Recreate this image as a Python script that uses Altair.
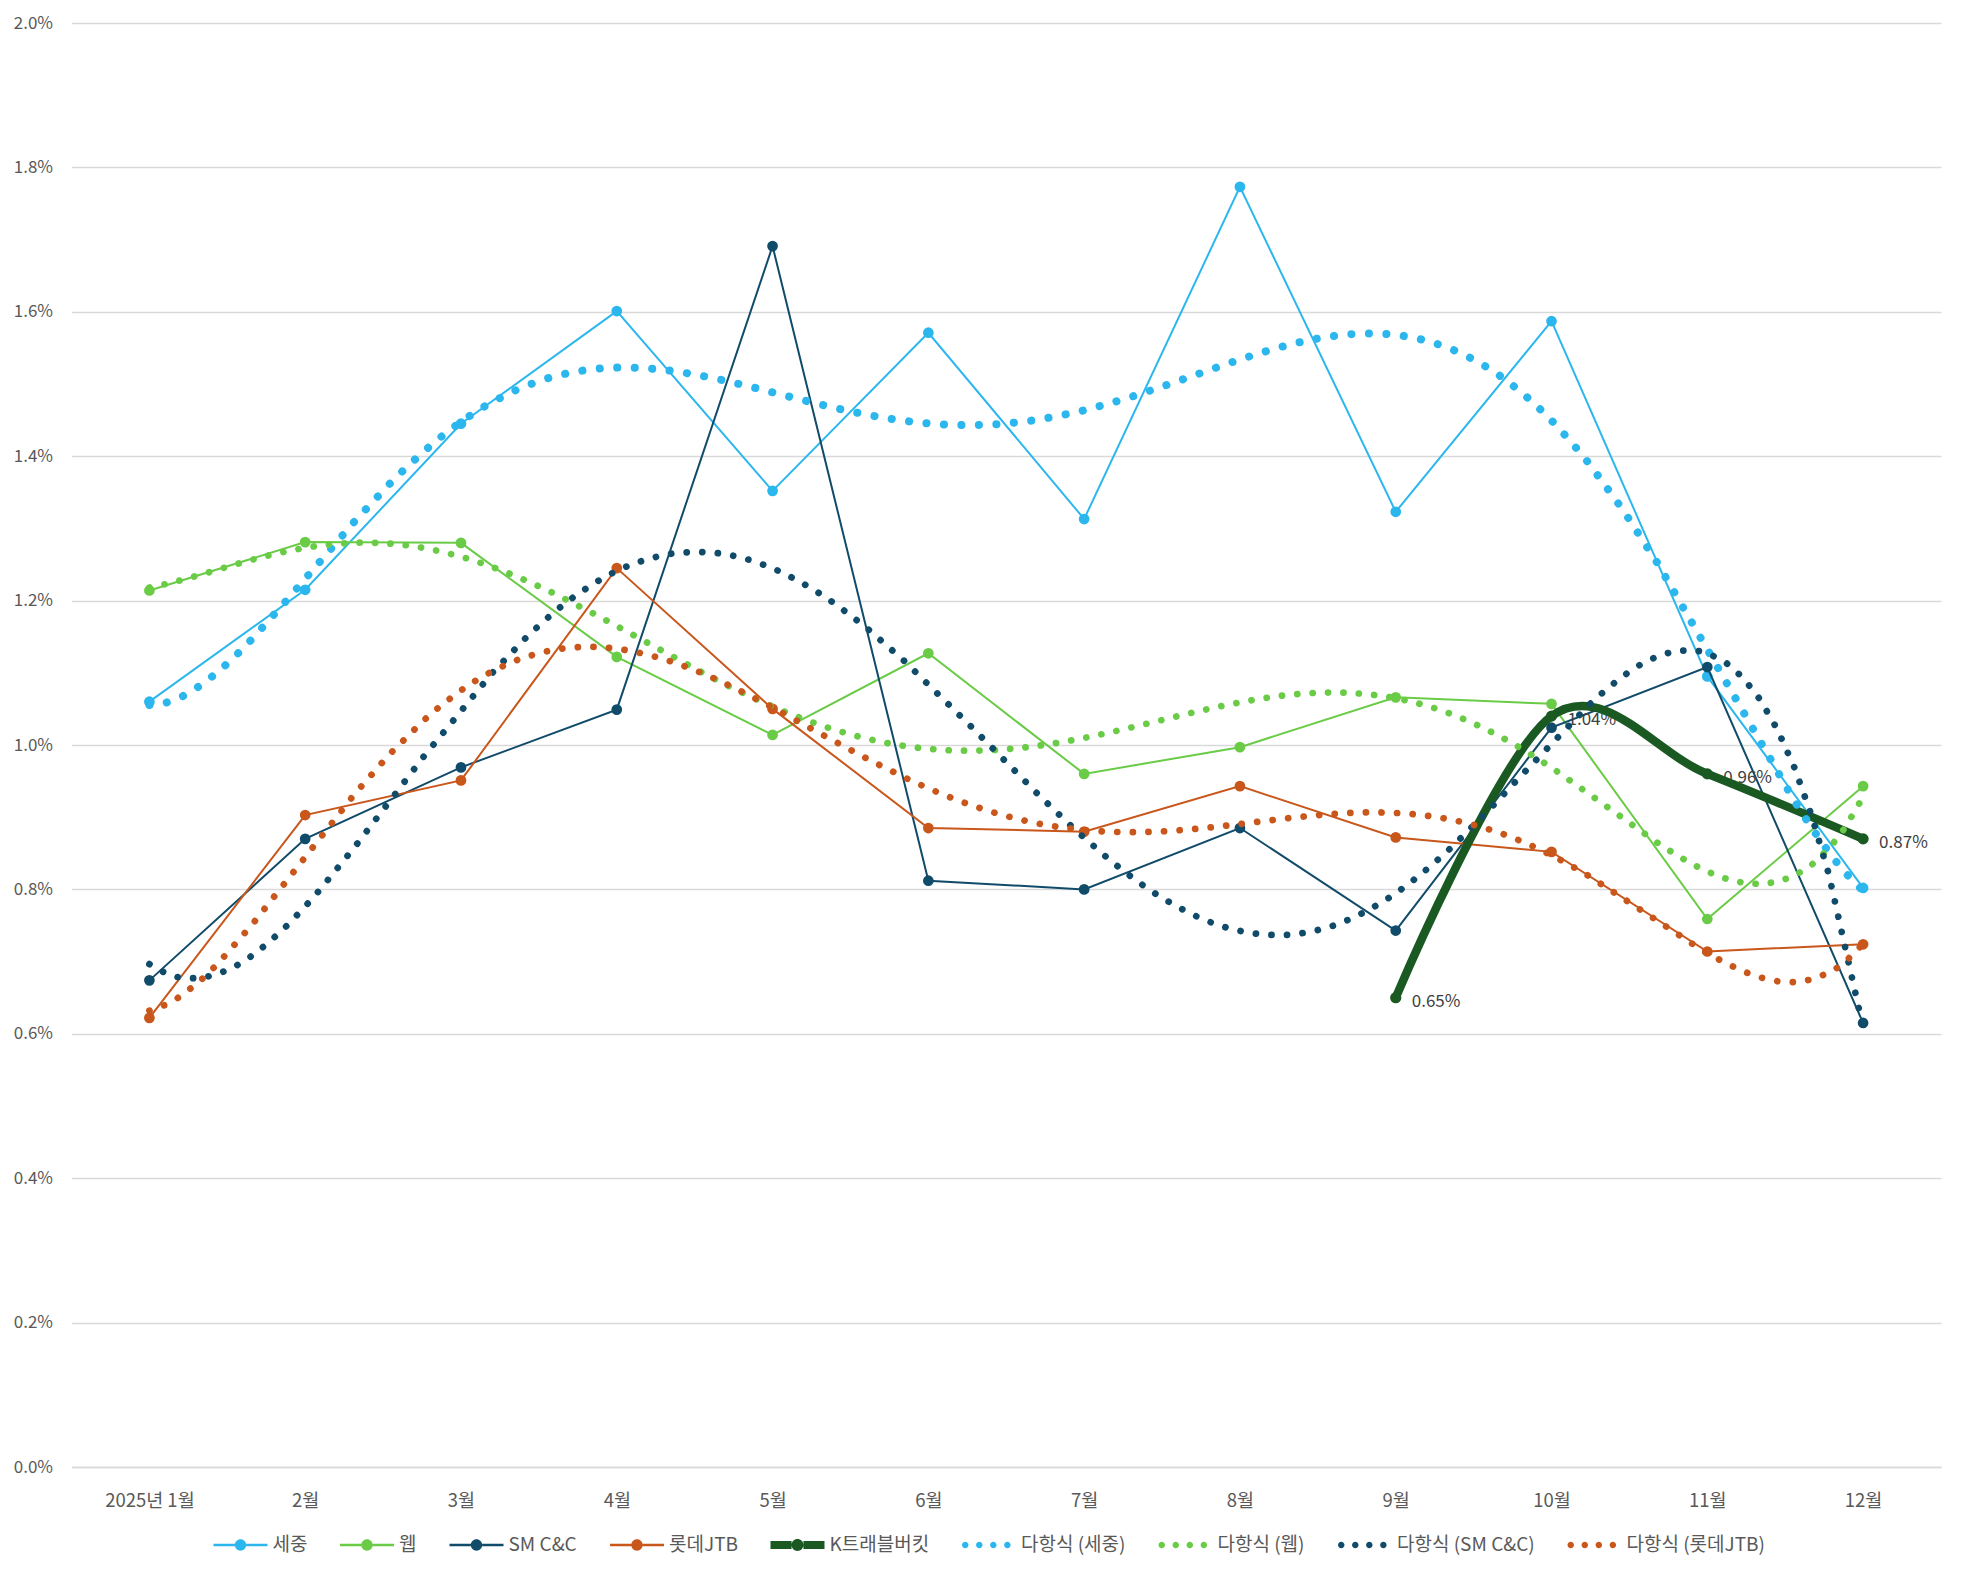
import altair as alt
import pandas as pd

# ---------------- data ----------------
month_idx = [1, 2, 3, 4, 5, 6, 7, 8, 9, 10, 11, 12]
month_labels = ["2025년 1월", "2월", "3월", "4월", "5월", "6월", "7월", "8월", "9월", "10월", "11월", "12월"]

sejong = [1.060, 1.215, 1.445, 1.601, 1.352, 1.571, 1.313, 1.773, 1.323, 1.587, 1.095, 0.802]
web = [1.214, 1.281, 1.280, 1.122, 1.014, 1.127, 0.960, 0.997, 1.066, 1.057, 0.759, 0.943]
smcnc = [0.674, 0.870, 0.969, 1.049, 1.691, 0.812, 0.800, 0.885, 0.743, 1.024, 1.108, 0.615]
lotte = [0.622, 0.903, 0.951, 1.245, 1.050, 0.885, 0.880, 0.943, 0.872, 0.852, 0.714, 0.724]

ktb_months = [9, 10, 11, 12]
ktb = [0.65, 1.04, 0.96, 0.87]

series_names = ["세중", "웹", "SM C&C", "롯데JTB"]
series_values = [sejong, web, smcnc, lotte]
series_colors = ["#2BB7EE", "#6ACB46", "#114B6A", "#C9561B"]
ktb_name = "K트래블버킷"
ktb_color = "#1A5A22"
trend_names = ["다항식 (세중)", "다항식 (웹)", "다항식 (SM C&C)", "다항식 (롯데JTB)"]
trend_widths = [8.0, 6.7, 6.7, 6.7]
trend_periods = [17.5, 15.4, 15.6, 15.6]

y_ticks = [0.0, 0.2, 0.4, 0.6, 0.8, 1.0, 1.2, 1.4, 1.6, 1.8, 2.0]

# ---------------- tables ----------------
rows = []
for name, vals in zip(series_names, series_values):
    for m, v in zip(month_idx, vals):
        rows.append({"series": name, "x": m, "value": v})
df = pd.DataFrame(rows)
ktb_df = pd.DataFrame({"series": ktb_name, "x": ktb_months, "value": ktb})

FONT = "Noto Sans CJK KR"
GRID = "#D9D9D9"
LABEL = "#595959"

label_js = "[" + ",".join("'" + s + "'" for s in month_labels) + "]"

x_enc = alt.X(
    "x:Q",
    scale=alt.Scale(domain=[0.5, 12.5], nice=False, zero=False),
    axis=alt.Axis(
        values=month_idx,
        labelExpr=label_js + "[datum.value - 1]",
        title=None,
        grid=False,
        ticks=False,
        domain=True,
        domainColor=GRID,
        domainWidth=1.5,
        labelFont=FONT,
        labelFontSize=18.5,
        labelColor=LABEL,
        labelPadding=24,
        labelFlush=False,
        labelOverlap=False,
    ),
)
y_enc = alt.Y(
    "value:Q",
    scale=alt.Scale(domain=[0, 2.0], nice=False, zero=True),
    axis=alt.Axis(
        values=y_ticks,
        labelExpr="format(datum.value, '.1f') + '%'",
        title=None,
        grid=True,
        gridColor=GRID,
        gridWidth=1.5,
        ticks=False,
        domain=False,
        labelFont=FONT,
        labelFontSize=17,
        labelColor=LABEL,
        labelPadding=19,
        labelFlush=False,
    ),
)

layers = []

# main series (line + markers)
for name, col in zip(series_names, series_colors):
    layers.append(
        alt.Chart(df)
        .transform_filter(alt.datum.series == name)
        .mark_line(
            color=col,
            strokeWidth=2,
            point=alt.OverlayMarkDef(filled=True, size=115, color=col, opacity=1),
        )
        .encode(x=x_enc, y=y_enc)
    )

# K트래블버킷 labels (under the thick line)
layers.append(
    alt.Chart(ktb_df)
    .transform_calculate(lbl="format(datum.value, '.2f') + '%'")
    .mark_text(align="left", baseline="middle", dx=16, dy=4, font=FONT, fontSize=17, color="#404040")
    .encode(x=x_enc, y=y_enc, text="lbl:N")
)

# K트래블버킷 smooth thick line
layers.append(
    alt.Chart(ktb_df)
    .mark_line(
        color=ktb_color,
        strokeWidth=8.5,
        interpolate="cardinal",
        strokeCap="round",
        point=alt.OverlayMarkDef(filled=True, size=125, color=ktb_color, opacity=1),
    )
    .encode(x=x_enc, y=y_enc)
)

# polynomial trendlines (round dots)
for name, col, w, p in zip(series_names, series_colors, trend_widths, trend_periods):
    layers.append(
        alt.Chart(df)
        .transform_filter(alt.datum.series == name)
        .transform_regression("x", "value", method="poly", order=6)
        .mark_line(color=col, strokeWidth=w, strokeCap="round", strokeDash=[0.1, p - 0.1])
        .encode(x=x_enc, y=y_enc)
    )

# legend-only layer
def line_marker_path(h, r):
    return (
        f"M-1,{-h}H{-r}V{h}H-1Z M{r},{-h}H1V{h}H{r}Z "
        f"M{-r},0A{r},{r} 0 1,0 {r},0A{r},{r} 0 1,0 {-r},0Z"
    )

def dots_path(r, centers):
    parts = []
    for c in centers:
        parts.append(f"M{c - r},0A{r},{r} 0 1,0 {c + r},0A{r},{r} 0 1,0 {c - r},0Z")
    return " ".join(parts)

legend_names = series_names + [ktb_name] + trend_names
legend_colors = series_colors + [ktb_color] + series_colors
legend_shapes = (
    [line_marker_path(0.047, 0.21)] * 4
    + [line_marker_path(0.15, 0.22)]
    + [dots_path(0.12, [-0.88, -0.36, 0.16, 0.68])] * 4
)

legend_props = dict(
    title=None,
    orient="none",
    legendX=142,
    legendY=1495,
    direction="horizontal",
    columns=9,
    symbolSize=2916,
    symbolStrokeWidth=0,
    symbolOpacity=1,
    labelFont=FONT,
    labelFontSize=19,
    labelColor=LABEL,
    labelOffset=5,
    columnPadding=32.5,
    padding=0,
    labelLimit=300,
)

legend_layer = (
    alt.Chart(df)
    .transform_filter("false")
    .mark_point(filled=True, opacity=1)
    .encode(
        x=x_enc,
        y=y_enc,
        color=alt.Color(
            "series:N",
            scale=alt.Scale(domain=legend_names, range=legend_colors),
            legend=alt.Legend(**legend_props),
        ),
        shape=alt.Shape(
            "series:N",
            scale=alt.Scale(domain=legend_names, range=legend_shapes),
            legend=alt.Legend(**legend_props),
        ),
    )
)
layers.append(legend_layer)

chart = (
    alt.layer(*layers)
    .properties(
        width=1869.5,
        height=1444,
        autosize=alt.AutoSizeParams(type="none"),
        padding={"left": 63.5, "top": 15, "right": 10, "bottom": 95},
        background="white",
    )
    .configure_view(stroke=None)
)

chart.save("out.html", embed_options={"renderer": "svg", "actions": False})
